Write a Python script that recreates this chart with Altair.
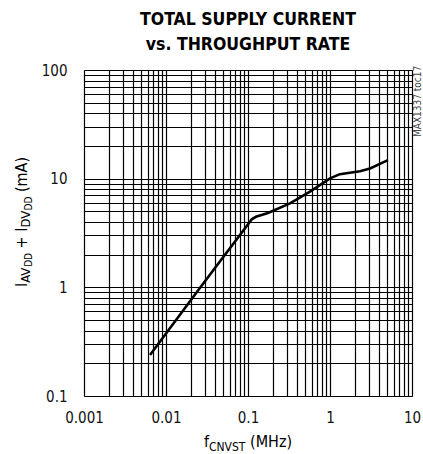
import altair as alt
import pandas as pd

# ---- data ----
freq_mhz = [0.00638, 0.0263, 0.112, 0.125, 0.175, 0.325, 0.570, 1.0, 1.32, 2.32, 3.08, 5.09]
current_ma = [0.238, 1.0, 4.25, 4.46, 4.83, 5.93, 7.59, 10.07, 11.0, 11.7, 12.4, 14.8]

x_decades = [0.001, 0.01, 0.1, 1, 10]
y_decades = [0.1, 1, 10, 100]

x_grid = [round(m * d, 6) for d in x_decades[:-1] for m in range(1, 10)] + [x_decades[-1]]
y_grid = [round(m * d, 6) for d in y_decades[:-1] for m in range(1, 10)] + [y_decades[-1]]

FONT = "DejaVu Sans Condensed, DejaVu Sans, sans-serif"
W, H = 328, 326

df = pd.DataFrame({"f": freq_mhz, "i": current_ma})


def lab_expr(vals):
    arr = ",".join(str(v) for v in vals)
    return f"indexof([{arr}], datum.value) >= 0 ? '' + datum.value : ''"


axis_common = dict(
    grid=True, gridColor="black", gridWidth=1.2, gridOpacity=1,
    ticks=False, domain=False, labelFont=FONT, labelFontSize=15,
    labelColor="#111", title=None,
)

line = alt.Chart(df).mark_line(color="black", strokeWidth=2.6).encode(
    x=alt.X("f:Q", scale=alt.Scale(type="log", domain=[0.001, 10], nice=False),
            axis=alt.Axis(values=x_grid, labelExpr=lab_expr(x_decades),
                          labelPadding=14, labelFlush=False, labelOverlap=False,
                          **axis_common)),
    y=alt.Y("i:Q", scale=alt.Scale(type="log", domain=[0.1, 100], nice=False),
            axis=alt.Axis(values=y_grid, labelExpr=lab_expr(y_decades),
                          labelPadding=17, labelFlush=False, labelOverlap=False,
                          **axis_common)),
)


def txt(text, x, y, size, angle=0, align="left", weight="normal", color="black"):
    return alt.Chart(alt.Data(values=[{}])).mark_text(
        text=text, x=x, y=y, fontSize=size, angle=angle, align=align,
        baseline="alphabetic", fontWeight=weight, font=FONT, color=color,
    )


layers = [line]

# title
layers.append(txt("TOTAL SUPPLY CURRENT", W / 2, -45, 17.5, align="center", weight="bold"))
layers.append(txt("vs. THROUGHPUT RATE", W / 2, -20, 17.5, align="center", weight="bold"))

# side note
layers.append(txt("MAX1337 toc17", 337, 67, 10, angle=270, color="#444"))

# approximate advance widths (em) for DejaVu Sans Condensed
ADV = {"I": .266, "A": .616, "V": .616, "D": .693, "+": .754, "(": .351,
       "m": .877, ")": .351, "f": .317, "C": .628, "N": .673, "S": .572, "T": .550,
       "M": .777, "H": .677, "z": .473}
SP = .286  # space width (em)


def width(s, size):
    return sum(ADV.get(c, .55) for c in s) * size


# x-axis title: f_CNVST (MHz)   (text, size, baseline shift, space before in em)
xt = [("f", 16, 0, 0), ("CNVST", 12, 4, 0), ("(MHz)", 16, 0, SP)]
total = sum(width(s, sz) + g * sz for s, sz, _, g in xt)
cx = W / 2 - total / 2
for s, sz, dy, g in xt:
    cx += g * sz
    layers.append(txt(s, cx, H + 51 + dy, sz))
    cx += width(s, sz)

# y-axis title: I_AV_DD + I_DV_DD (mA), rotated
yt = [("I", 16, 0, 0), ("AV", 13, 3, 0), ("DD", 10, 5, 0), ("+", 16, 0, SP),
      ("I", 16, 0, SP), ("DV", 13, 3, 0), ("DD", 10, 5, 0), ("(mA)", 16, 0, SP)]
total = sum(width(s, sz) + g * sz for s, sz, _, g in yt)
cy = 152 + total / 2
for s, sz, dx, g in yt:
    cy -= g * sz
    layers.append(txt(s, -57 + dx, cy, sz, angle=270))
    cy -= width(s, sz)

chart = alt.layer(*layers).properties(
    width=W, height=H,
    autosize="none",
    padding={"left": 84, "top": 70, "right": 11, "bottom": 58},
).configure_view(stroke="black", strokeWidth=2.8).configure(background="white")

chart.save("out.html", embed_options={"renderer": "svg", "actions": False})
